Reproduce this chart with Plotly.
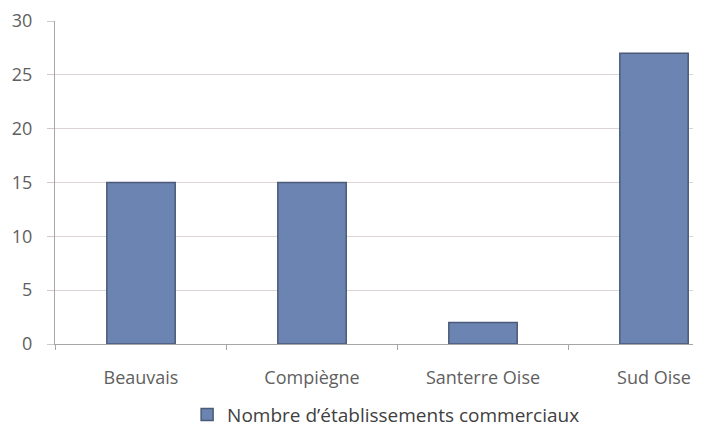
import plotly.graph_objects as go

categories = ["Beauvais", "Compiègne", "Santerre Oise", "Sud Oise"]
values = [15, 15, 2, 27]
series_name = "Nombre d’établissements commerciaux"
y_ticks = [0, 5, 10, 15, 20, 25, 30]

fig = go.Figure()
fig.add_trace(go.Bar(
    x=categories, y=values, name=series_name,
    width=0.4,
    marker=dict(color="#6b84b1", line=dict(color="#4b5a78", width=1.5)),
    showlegend=True,
))

fig.update_layout(
    width=685, height=425,
    margin=dict(l=47, r=0, t=13, b=89, autoexpand=False),
    paper_bgcolor="white", plot_bgcolor="white",
    font=dict(family="Open Sans, Liberation Sans, sans-serif", size=18, color="#5f5f5f"),
    xaxis=dict(
        range=[-0.503, 3.228], showgrid=False, showline=True, linecolor="#a6a6a6",
        ticks="outside", tickson="boundaries", ticklen=5, tickcolor="#a6a6a6",
        tickfont=dict(size=18, color="#5f5f5f"), automargin=False,
        ticklabelstandoff=17,
    ),
    yaxis=dict(
        range=[0, 30], tickvals=y_ticks, showgrid=True, gridcolor="#dcd4d4",
        showline=True, linecolor="#a6a6a6", ticks="outside", ticklen=7,
        tickcolor="#d0c8c8", tickfont=dict(size=18, color="#5f5f5f"), zeroline=False,
        automargin=False, ticklabelstandoff=11,
    ),
    legend=dict(orientation="h", x=0.519, xanchor="center", y=-0.16, yanchor="top",
                font=dict(size=19, color="#404040")),
    bargap=0.6,
)

fig.write_html("out.html")
